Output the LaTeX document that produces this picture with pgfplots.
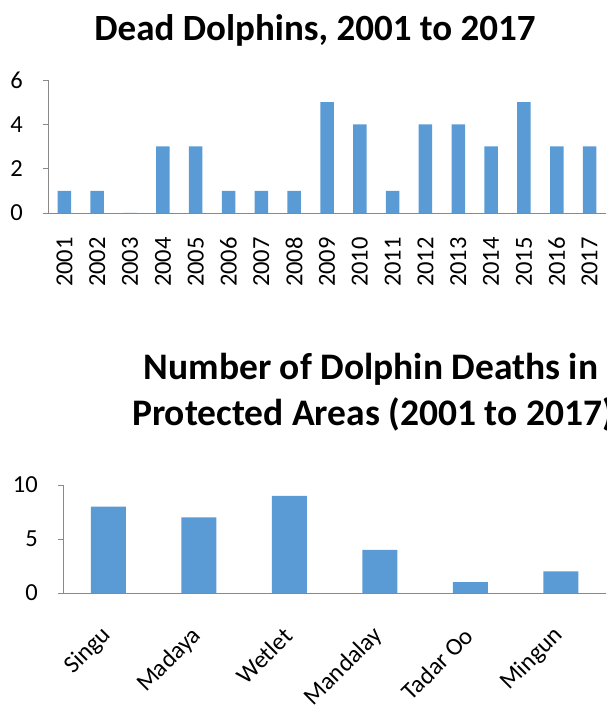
\documentclass[border=0pt]{standalone}
\usepackage{fontspec}
\setmainfont{Carlito}
\usepackage{pgfplots}
\pgfplotsset{compat=1.18}
\definecolor{barblue}{HTML}{5B9BD5}
\definecolor{axgray}{HTML}{898989}

\pgfplotstableread{
x y
0 1
1 1
2 0
3 3
4 3
5 1
6 1
7 1
8 5
9 4
10 1
11 4
12 4
13 3
14 5
15 3
16 3
}\yeartable

\pgfplotstableread{
x y
0 8
1 7
2 9
3 4
4 1
5 2
}\areatable

\pgfplotsset{
  excelstyle/.style={
    scale only axis,
    axis lines*=left,
    axis line style={axgray, line width=0.9pt},
    tick align=outside,
    xtick style={draw=none},
    minor tick style={axgray, line width=0.9pt},
    minor tick length=7pt,
    ytick style={axgray, line width=0.9pt},
    major tick length=5pt,
    ybar,
    enlarge x limits=false,
    enlarge y limits=false,
    clip=false,
    tick label style={font=\fontsize{24.5}{28}\selectfont, text=black},
    yticklabel style={inner sep=0pt, xshift=-20pt},
  }
}

\begin{document}
\begin{tikzpicture}
\path[use as bounding box] (0pt,0pt) rectangle (607pt,706pt);

\node[font=\bfseries\fontsize{37}{40}\selectfont, anchor=base] at (315pt,665pt) {Dead Dolphins, 2001 to 2017};

\begin{axis}[excelstyle,
  at={(48pt,493pt)}, anchor=south west,
  width=558pt, height=133pt,
  xmin=-0.5, xmax=16.5, ymin=0, ymax=6,
  ytick={0,2,4,6}, yticklabels={0,2,4,6},
  xtick={0,...,16},
  xticklabels={2001,2002,2003,2004,2005,2006,2007,2008,2009,2010,2011,2012,2013,2014,2015,2016,2017},
  minor xtick={-0.5,0.5,...,16.5},
  xticklabel style={inner sep=0pt, yshift=-19pt, rotate=90, anchor=east},
  bar width=13.5pt,
]
\addplot[fill=barblue, draw=none] table[x=x,y=y] {\yeartable};
\end{axis}

\node[font=\bfseries\fontsize{37.5}{40}\selectfont, anchor=base] at (371pt,326pt) {Number of Dolphin Deaths in};
\node[font=\bfseries\fontsize{37.5}{40}\selectfont, anchor=base] at (373pt,280pt) {Protected Areas (2001 to 2017)};

\begin{axis}[excelstyle,
  at={(63pt,113pt)}, anchor=south west,
  width=543pt, height=108pt,
  xmin=-0.5, xmax=5.5, ymin=0, ymax=10,
  ytick={0,5,10}, yticklabels={0,5,10},
  xtick={0,...,5},
  xticklabels={Singu,Madaya,Wetlet,Mandalay,Tadar Oo,Mingun},
  minor xtick={-0.5,0.5,...,5.5},
  xticklabel style={inner sep=0pt, xshift=-1pt, yshift=-34pt, rotate=45, anchor=east},
  bar width=35pt,
]
\addplot[fill=barblue, draw=none] table[x=x,y=y] {\areatable};
\end{axis}
\end{tikzpicture}
\end{document}
